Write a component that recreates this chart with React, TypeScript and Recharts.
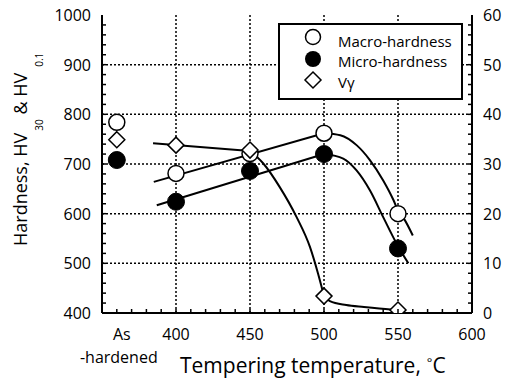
import React from 'react';
import { ComposedChart, Line, Scatter, XAxis, YAxis, CartesianGrid } from 'recharts';

// ---- data ----
// x position 360 is where the "As-hardened" samples are plotted
const temperatures = [360, 400, 450, 500, 550];
const macroHardness = [784, 681, 721, 762, 600];
const microHardness = [708, 624, 686, 720, 530];
const vGamma = [34.9, 33.8, 32.8, 3.4, 0.6];

// fitted trend lines
const macroLineX = [385, 500];
const macroLineY = [664, 762];
const macroCurveX = [500, 511, 522, 531, 540, 547, 550, 554, 560];
const macroCurveY = [762, 758, 738, 708, 667, 627, 606, 590, 556];

const microLineX = [387, 500];
const microLineY = [617, 720];
const microCurveX = [500, 513, 522, 531, 540, 549, 557];
const microCurveY = [720, 711, 687, 647, 593, 540, 500];

const vgLineX = [384.5, 450];
const vgLineY = [34.2, 32.6];
const vgCurve1X = [450, 459, 470, 481.5, 490.5, 496, 500];
const vgCurve1Y = [32.6, 30.1, 25.4, 19.3, 13.3, 7.9, 3.4];
const vgCurve2X = [500, 504, 515, 527, 545, 550];
const vgCurve2Y = [3.4, 2.4, 1.6, 1.2, 0.7, 0.6];

// axes
const xMajorTicks = [400, 450, 500, 550, 600];
const asHardenedX = 360;
const leftMajorTicks = [400, 500, 600, 700, 800, 900, 1000];
const rightMajorTicks = [0, 10, 20, 30, 40, 50, 60];
const xGrid = [400, 450, 500, 550];
const yGrid = [500, 600, 700, 800, 900];

const xMinor: number[] = [];
for (let v = 360; v <= 600; v += 10) xMinor.push(v);
const leftMinor: number[] = [];
for (let v = 400; v <= 1000; v += 20) leftMinor.push(v);
const rightMinor: number[] = [];
for (let v = 0; v <= 60; v += 2) rightMinor.push(v);

const zip = (xs: number[], ys: number[]) => xs.map((x, i) => ({ x, y: ys[i] }));
const macroPts = zip(temperatures, macroHardness);
const microPts = zip(temperatures, microHardness);
const vgPts = zip(temperatures, vGamma);

const FONT = '"Open Sans", "DejaVu Sans", sans-serif';
const TICK_LEN = 4;

const BottomTick = (props: any) => {
  const { x, y, payload } = props;
  const v = payload.value;
  return (
    <g>
      {v > 350 && v < 600 && (
        <line x1={x} x2={x} y1={y} y2={y - TICK_LEN} stroke="#000" strokeWidth={1.5} />
      )}
      {v === asHardenedX && (
        <text x={x + 2} y={y + 27} textAnchor="middle" fontFamily={FONT} fontSize={16} fill="#000">
          <tspan x={x + 5} y={y + 27}>As</tspan>
          <tspan x={x + 2} y={y + 50}>-hardened</tspan>
        </text>
      )}
      {xMajorTicks.includes(v) && (
        <text x={x} y={y + 27} textAnchor="middle" fontFamily={FONT} fontSize={16} fill="#000">
          {v}
        </text>
      )}
    </g>
  );
};

const TopTick = (props: any) => {
  const { x, y, payload } = props;
  const v = payload.value;
  if (v <= 350 || v >= 600) return <g />;
  return <line x1={x} x2={x} y1={y} y2={y + TICK_LEN} stroke="#000" strokeWidth={1.5} />;
};

const LeftTick = (props: any) => {
  const { x, y, payload } = props;
  const v = payload.value;
  return (
    <g>
      {v > 400 && v < 1000 && (
        <line x1={x} x2={x + TICK_LEN} y1={y} y2={y} stroke="#000" strokeWidth={1.5} />
      )}
      {leftMajorTicks.includes(v) && (
        <text x={x - 11} y={y + 6} textAnchor="end" fontFamily={FONT} fontSize={16} fill="#000">
          {v}
        </text>
      )}
    </g>
  );
};

const RightTick = (props: any) => {
  const { x, y, payload } = props;
  const v = payload.value;
  return (
    <g>
      {v > 0 && v < 60 && (
        <line x1={x} x2={x - TICK_LEN} y1={y} y2={y} stroke="#000" strokeWidth={1.5} />
      )}
      {rightMajorTicks.includes(v) && (
        <text x={x + 11} y={y + 6} textAnchor="start" fontFamily={FONT} fontSize={16} fill="#000">
          {v}
        </text>
      )}
    </g>
  );
};

const OpenCircle = (props: any) => (
  <circle cx={props.cx} cy={props.cy} r={8} fill="#fff" stroke="#000" strokeWidth={1.5} />
);
const FilledCircle = (props: any) => (
  <circle cx={props.cx} cy={props.cy} r={8.5} fill="#000" stroke="#000" strokeWidth={1} />
);
const Diamond = (props: any) => {
  const { cx, cy } = props;
  const d = 8;
  return (
    <path
      d={`M${cx},${cy - d}L${cx + d},${cy}L${cx},${cy + d}L${cx - d},${cy}Z`}
      fill="#fff"
      stroke="#000"
      strokeWidth={1.5}
    />
  );
};

const XLabel = () => (
  <text x={180} y={373} fontFamily={FONT} fontSize={21} fill="#000">
    Tempering temperature,<tspan dx={6} dy={-6} fontSize={13}>°</tspan>
    <tspan dy={6}>C</tspan>
  </text>
);

const YLabel = () => (
  <text
    x={27}
    y={246}
    transform="rotate(-90 27 246)"
    fontFamily={FONT}
    fontSize={18}
    fill="#000"
  >
    Hardness, HV
    <tspan dx={2} dy={16} fontSize={10}>30</tspan>
    <tspan dy={-16}> &amp; HV</tspan>
    <tspan dx={6} dy={16} fontSize={10}>0.1</tspan>
  </text>
);

const lineProps = {
  stroke: '#000',
  strokeWidth: 2,
  dot: false,
  activeDot: false,
  isAnimationActive: false,
  xAxisId: 'b',
  dataKey: 'y',
} as const;

export default function App() {
  return (
    <div style={{ position: 'relative', width: 505, height: 382, background: '#fff' }}>
      <style>{'body{margin:0;background:#fff}'}</style>
      <ComposedChart width={505} height={382} margin={{ top: 15, right: 0, bottom: 0, left: 0 }}>
        <XAxis
          xAxisId="b"
          type="number"
          dataKey="x"
          domain={[350, 600]}
          ticks={xMinor}
          interval={0}
          tickLine={false}
          tickSize={0}
          tickMargin={0}
          height={69}
          axisLine={{ stroke: '#000', strokeWidth: 2 }}
          tick={<BottomTick />}
          allowDataOverflow
          label={<XLabel />}
        />
        <XAxis
          xAxisId="t"
          orientation="top"
          type="number"
          dataKey="x"
          domain={[350, 600]}
          ticks={xMinor}
          interval={0}
          tickLine={false}
          tickSize={0}
          tickMargin={0}
          height={0}
          axisLine={{ stroke: '#000', strokeWidth: 2 }}
          tick={<TopTick />}
          allowDataOverflow
        />
        <YAxis
          yAxisId="l"
          type="number"
          dataKey="y"
          domain={[400, 1000]}
          ticks={leftMinor}
          interval={0}
          tickLine={false}
          tickSize={0}
          tickMargin={0}
          width={102}
          axisLine={{ stroke: '#000', strokeWidth: 2 }}
          tick={<LeftTick />}
          allowDataOverflow
          label={<YLabel />}
        />
        <YAxis
          yAxisId="r"
          orientation="right"
          type="number"
          dataKey="y"
          domain={[0, 60]}
          ticks={rightMinor}
          interval={0}
          tickLine={false}
          tickSize={0}
          tickMargin={0}
          width={33}
          axisLine={{ stroke: '#000', strokeWidth: 2 }}
          tick={<RightTick />}
          allowDataOverflow
        />
        <CartesianGrid
          xAxisId="b"
          yAxisId="l"
          verticalValues={xGrid}
          horizontalValues={yGrid}
          stroke="#000"
          strokeWidth={1.5}
          strokeDasharray="2 2"
        />
        <Line {...lineProps} yAxisId="l" data={zip(macroLineX, macroLineY)} type="linear" />
        <Line {...lineProps} yAxisId="l" data={zip(macroCurveX, macroCurveY)} type="monotone" />
        <Line {...lineProps} yAxisId="l" data={zip(microLineX, microLineY)} type="linear" />
        <Line {...lineProps} yAxisId="l" data={zip(microCurveX, microCurveY)} type="monotone" />
        <Line {...lineProps} yAxisId="r" data={zip(vgLineX, vgLineY)} type="linear" />
        <Line {...lineProps} yAxisId="r" data={zip(vgCurve1X, vgCurve1Y)} type="monotone" />
        <Line {...lineProps} yAxisId="r" data={zip(vgCurve2X, vgCurve2Y)} type="monotone" />
        <Scatter data={macroPts} xAxisId="b" yAxisId="l" shape={<OpenCircle />} isAnimationActive={false} />
        <Scatter data={microPts} xAxisId="b" yAxisId="l" shape={<FilledCircle />} isAnimationActive={false} />
        <Scatter data={vgPts} xAxisId="b" yAxisId="r" shape={<Diamond />} isAnimationActive={false} />
      </ComposedChart>
      <div
        style={{
          position: 'absolute',
          left: 278,
          top: 23,
          width: 181,
          height: 73,
          border: '2px solid #000',
          background: '#fff',
        }}
      >
        <svg width={181} height={73} style={{ display: 'block' }}>
          <circle cx={33} cy={12} r={7.5} fill="#fff" stroke="#000" strokeWidth={1.5} />
          <circle cx={33} cy={34} r={8} fill="#000" />
          <path d="M33,47L41,55L33,63L25,55Z" fill="#fff" stroke="#000" strokeWidth={1.5} />
          <text x={58} y={22} fontFamily={FONT} fontSize={15} fill="#000">Macro-hardness</text>
          <text x={58} y={42} fontFamily={FONT} fontSize={15} fill="#000">Micro-hardness</text>
          <text x={58} y={63} fontFamily={FONT} fontSize={15} fill="#000">Vγ</text>
        </svg>
      </div>
    </div>
  );
}
